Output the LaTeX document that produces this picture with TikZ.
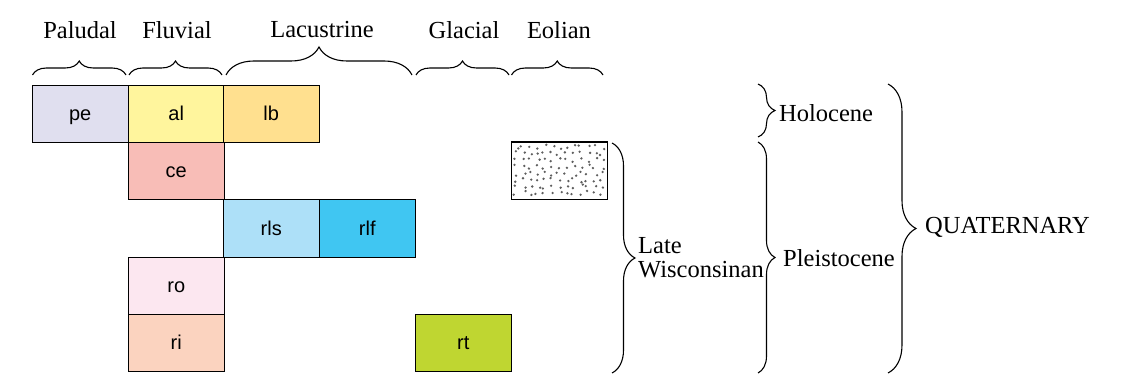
\documentclass[tikz,border=0pt]{standalone}
\usepackage{fontspec}
\setmainfont{Liberation Serif}
\newfontfamily\boxfont{Liberation Sans}
\usetikzlibrary{decorations.pathreplacing}

\definecolor{cpe}{HTML}{E0DFEF}
\definecolor{cal}{HTML}{FFF59D}
\definecolor{clb}{HTML}{FFE08F}
\definecolor{cce}{HTML}{F8BDB7}
\definecolor{crls}{HTML}{ADE0F8}
\definecolor{crlf}{HTML}{40C6F2}
\definecolor{cro}{HTML}{FCE7F0}
\definecolor{cri}{HTML}{FBD3BF}
\definecolor{crt}{HTML}{BFD631}
\definecolor{dotgray}{HTML}{5E5E5E}

\tikzset{
  unit/.style={draw=black, line width=1pt, minimum width=95.5pt, minimum height=57pt,
    inner sep=0pt, anchor=north west, text height=14.3pt, text depth=1.3pt,
    font=\boxfont\fontsize{20}{24}\selectfont},
  envlabel/.style={font=\fontsize{24.5}{27}\selectfont, inner sep=0pt},
  agelabel/.style={font=\fontsize{24.5}{27}\selectfont, inner sep=0pt, anchor=west, align=left},
  topbrace/.style={decorate, decoration={brace, amplitude=#1}, line width=1.1pt},
  sidebrace/.style={decorate, decoration={brace, amplitude=#1}, line width=1.1pt},
}

\begin{document}
\begin{tikzpicture}[x=1pt, y=-1pt]
\useasboundingbox (0,0) rectangle (1136,385);

% environment headings
\node[envlabel] (hpal) at (80,30) {Paludal};
\node[envlabel] (hflu) at (177,30) {Fluvial};
\node[envlabel] (hlac) at (322,30) {Lacustrine};
\node[envlabel] (hgla) at (464,30) {Glacial};
\node[envlabel] (heol) at (559,30) {Eolian};

% braces under the headings
\draw[topbrace=14pt] (32.5,75) -- (126,75);
\draw[topbrace=14pt] (129,75) -- (222,75);
\draw[topbrace=28pt] (226,75) -- (412,75);
\draw[topbrace=14pt] (416,75) -- (509,75);
\draw[topbrace=14pt] (511.5,75) -- (603,75);

% map units
\node[unit, fill=cpe] (pe) at (32,85) {pe};
\node[unit, fill=cal] (al) at (128,85) {al};
\node[unit, fill=clb] (lb) at (223,85) {lb};
\node[unit, fill=cce] (ce) at (128,142) {ce};
\node[unit, fill=crls] (rls) at (223,199.5) {rls};
\node[unit, fill=crlf] (rlf) at (319,199.5) {rlf};
\node[unit, fill=cro] (ro) at (128,257) {ro};
\node[unit, fill=cri] (ri) at (128,314) {ri};
\node[unit, fill=crt] (rt) at (415,314) {rt};

% eolian unit with a sand stipple on a jittered grid
\node[unit] (eo) at (511,142) {};
\pgfmathsetseed{4217}
\foreach \c in {0,...,12} {
  \foreach \r in {0,...,7} {
    \pgfmathsetmacro{\dx}{516+\c*7.2+rand*2.6}
    \pgfmathsetmacro{\dy}{147+\r*6.6+rand*2.4}
    \fill[dotgray] (\dx,\dy) circle (1.3pt);
  }
}
\draw[line width=1pt] (eo.north west) rectangle (eo.south east);

% age braces
\draw[sidebrace=23pt] (612,143) -- (612,373);
\node[agelabel] (lw) at (638,258) {Late\\[-3pt]Wisconsinan};

\draw[sidebrace=17pt] (758,84) -- (758,137);
\node[agelabel] (hol) at (779,113) {Holocene};

\draw[sidebrace=17pt] (758,142) -- (758,373);
\node[agelabel] (ple) at (783,258) {Pleistocene};

\draw[sidebrace=28pt] (888,84) -- (888,373);
\node[agelabel] (qua) at (925,227) {QUATERNARY};
\end{tikzpicture}
\end{document}
